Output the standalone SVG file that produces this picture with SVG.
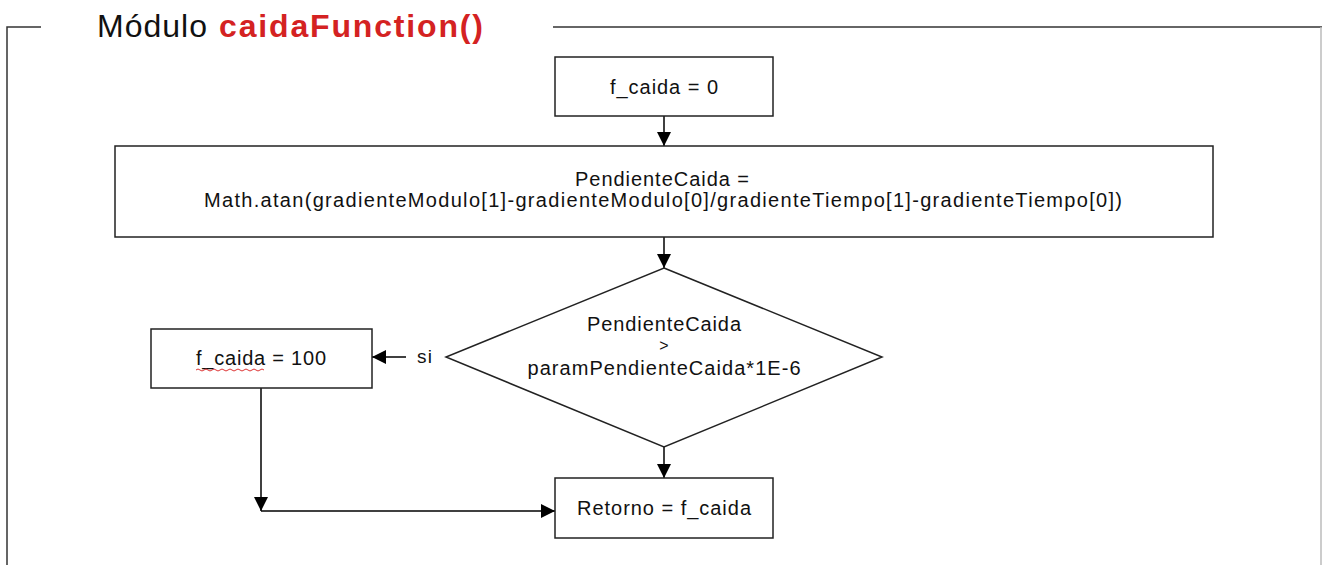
<svg xmlns="http://www.w3.org/2000/svg" width="1324" height="565" viewBox="0 0 1324 565">
  <defs>
    <marker id="arrow" viewBox="0 0 14 14" refX="14" refY="7" markerWidth="14" markerHeight="14" markerUnits="userSpaceOnUse" orient="auto">
      <path d="M0,0 L14,7 L0,14 Z" fill="#000"/>
    </marker>
  </defs>
  <style>
    .box { fill: #fff; stroke: #222; stroke-width: 1.5; }
    .lbl { font-family: "Liberation Sans", Arial, sans-serif; font-size: 20px; fill: #111; text-anchor: middle; }
    .edge { fill: none; stroke: #000; stroke-width: 1.5; marker-end: url(#arrow); }
    .frame { fill: none; stroke: #333; stroke-width: 1.5; }
    .title { font-family: "Liberation Sans", Arial, sans-serif; font-size: 32px; fill: #111; }
    .title-fn { font-weight: bold; fill: #d42222; }
  </style>
  <rect width="1324" height="565" fill="#fff"/>

  <!-- module frame -->
  <g id="frame">
    <polyline class="frame" points="41,27 7,27 7,565"/>
    <line class="frame" x1="553" y1="27" x2="1322" y2="27"/>
    <line x1="1321" y1="27" x2="1321" y2="565" stroke="#bbb" stroke-width="1.5"/>
    <text class="title" x="97" y="37" textLength="110" lengthAdjust="spacing">Módulo</text>
    <text class="title title-fn" x="219" y="37" textLength="264" lengthAdjust="spacing">caidaFunction()</text>
  </g>

  <!-- connectors -->
  <g id="connectors">
    <line class="edge" x1="406" y1="357" x2="372" y2="357"/>
    <text x="417" y="363" font-family="Liberation Sans, Arial, sans-serif" font-size="19" fill="#111" textLength="15" lengthAdjust="spacing">si</text>
    <line class="edge" x1="664" y1="116" x2="664" y2="146"/>
    <line class="edge" x1="664" y1="237" x2="664" y2="268"/>
    <line class="edge" x1="261" y1="388" x2="261" y2="511"/>
    <line class="edge" x1="261" y1="511" x2="555" y2="511"/>
    <line class="edge" x1="664" y1="447" x2="664" y2="478"/>
  </g>

  <g id="init">
    <rect class="box" x="555" y="57" width="218" height="59"/>
    <text class="lbl" x="664" y="94" textLength="108" lengthAdjust="spacing">f_caida = 0</text>
  </g>

  <g id="pendiente">
    <rect class="box" x="115" y="146" width="1098" height="91"/>
    <text class="lbl" x="662" y="186" textLength="174" lengthAdjust="spacing">PendienteCaida =</text>
    <text class="lbl" x="663" y="207" textLength="918" lengthAdjust="spacing">Math.atan(gradienteModulo[1]-gradienteModulo[0]/gradienteTiempo[1]-gradienteTiempo[0])</text>
  </g>

  <g id="decision">
    <polygon class="box" points="664,268 882,357 664,447 446,357"/>
    <text class="lbl" x="664" y="331" textLength="154" lengthAdjust="spacing">PendienteCaida</text>
    <text class="lbl" x="664" y="351" style="font-size:16px">&gt;</text>
    <text class="lbl" x="664" y="375" textLength="273" lengthAdjust="spacing">paramPendienteCaida*1E-6</text>
  </g>

  <g id="caida100">
    <rect class="box" x="151" y="329" width="221" height="59"/>
    <text class="lbl" x="261" y="365" textLength="130" lengthAdjust="spacing">f_caida = 100</text>
    <path d="M196,370 q2,-2 4,0 t4,0 t4,0 t4,0 t4,0 t4,0 t4,0 t4,0 t4,0 t4,0 t4,0 t4,0 t4,0 t4,0 t4,0 t4,0 t4,0" fill="none" stroke="#d33" stroke-width="1"/>
  </g>

  <g id="retorno">
    <rect class="box" x="555" y="478" width="218" height="60"/>
    <text class="lbl" x="664" y="515" textLength="174" lengthAdjust="spacing">Retorno = f_caida</text>
  </g>
</svg>
